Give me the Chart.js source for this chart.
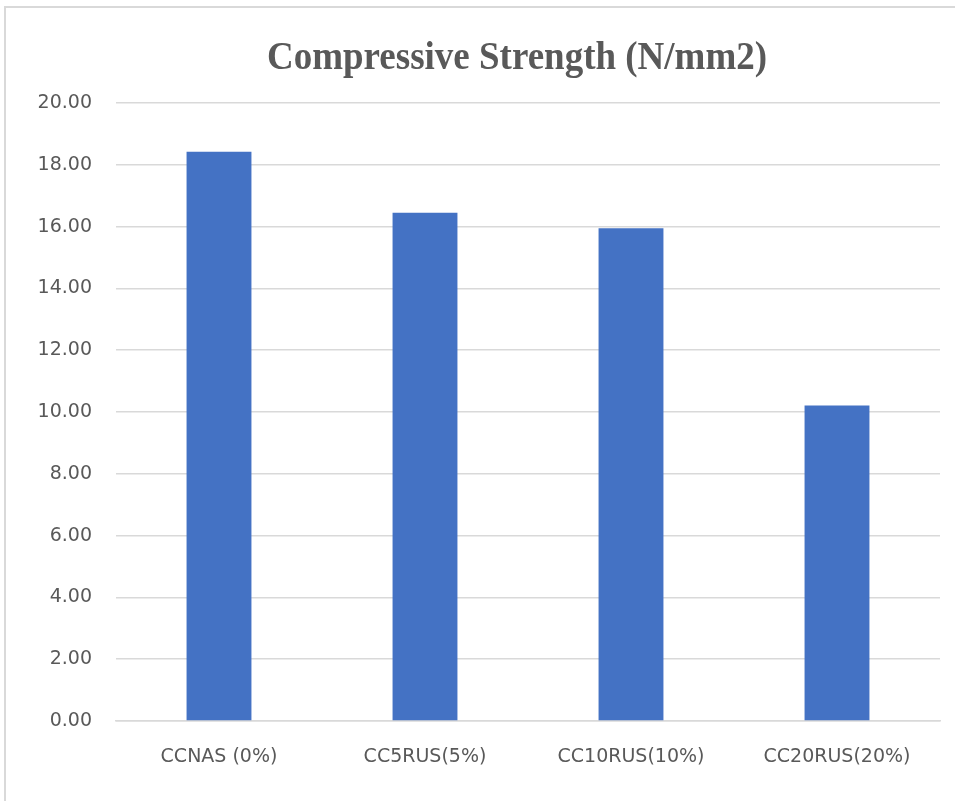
<!DOCTYPE html>
<html>
<head>
<meta charset="utf-8">
<script src="https://cdn.jsdelivr.net/npm/chart.js@4"></script>
<style>
  html, body { margin: 0; padding: 0; background: #fff; }
  #wrap { width: 955px; height: 801px; position: relative; }
</style>
</head>
<body>
<div id="wrap"><canvas id="chart" width="955" height="801"></canvas></div>
<script>
// данные графика
const categories = ["CCNAS (0%)", "CC5RUS(5%)", "CC10RUS(10%)", "CC20RUS(20%)"];
const strength = [18.42, 16.45, 15.95, 10.21];
const chartTitle = "Compressive Strength (N/mm2)";

const grey = "#595959";
const gridGrey = "#d9d9d9";

// рамка и заголовок рисуем сами
const framePlugin = {
  id: "frame",
  beforeDraw(chart) {
    const ctx = chart.ctx;
    ctx.save();
    ctx.strokeStyle = gridGrey;
    ctx.lineWidth = 2;
    ctx.strokeRect(5, 7, 1200, 1200);
    ctx.restore();
  },
  afterDraw(chart) {
    const ctx = chart.ctx;
    const area = chart.chartArea;
    ctx.save();
    ctx.fillStyle = grey;
    ctx.font = "bold 37px 'Liberation Serif', 'Times New Roman', serif";
    ctx.textAlign = "center";
    ctx.textBaseline = "alphabetic";
    // в оригинале шрифт чуть вытянут по вертикали
    ctx.translate((area.left + area.right) / 2 - 11, 69);
    ctx.scale(1, 1.08);
    ctx.fillText(chartTitle, 0, 0);
    ctx.restore();
  }
};

new Chart(document.getElementById("chart"), {
  type: "bar",
  data: {
    labels: categories,
    datasets: [{
      data: strength,
      backgroundColor: "#4472c4",
      borderWidth: 0,
      barPercentage: 0.63,
      categoryPercentage: 0.5
    }]
  },
  options: {
    responsive: false,
    animation: false,
    layout: { padding: { left: 0, right: 15, top: 103, bottom: 0 } },
    plugins: {
      legend: { display: false },
      title: { display: false },
      tooltip: { enabled: false }
    },
    scales: {
      x: {
        grid: { display: false, drawTicks: false },
        border: { display: true, color: gridGrey, width: 1.5 },
        ticks: {
          color: grey,
          padding: 25,
          maxRotation: 0,
          font: { family: "'DejaVu Sans', sans-serif", size: 19 }
        },
        afterFit(scale) { scale.height = 80; }
      },
      y: {
        min: 0,
        max: 20,
        grid: { color: gridGrey, lineWidth: 1.5, drawTicks: false },
        border: { display: false },
        ticks: {
          stepSize: 2,
          color: grey,
          padding: 24,
          font: { family: "'DejaVu Sans', sans-serif", size: 19 },
          callback: v => v.toFixed(2)
        },
        afterFit(scale) { scale.width = 116; }
      }
    }
  },
  plugins: [framePlugin]
});
</script>
</body>
</html>
